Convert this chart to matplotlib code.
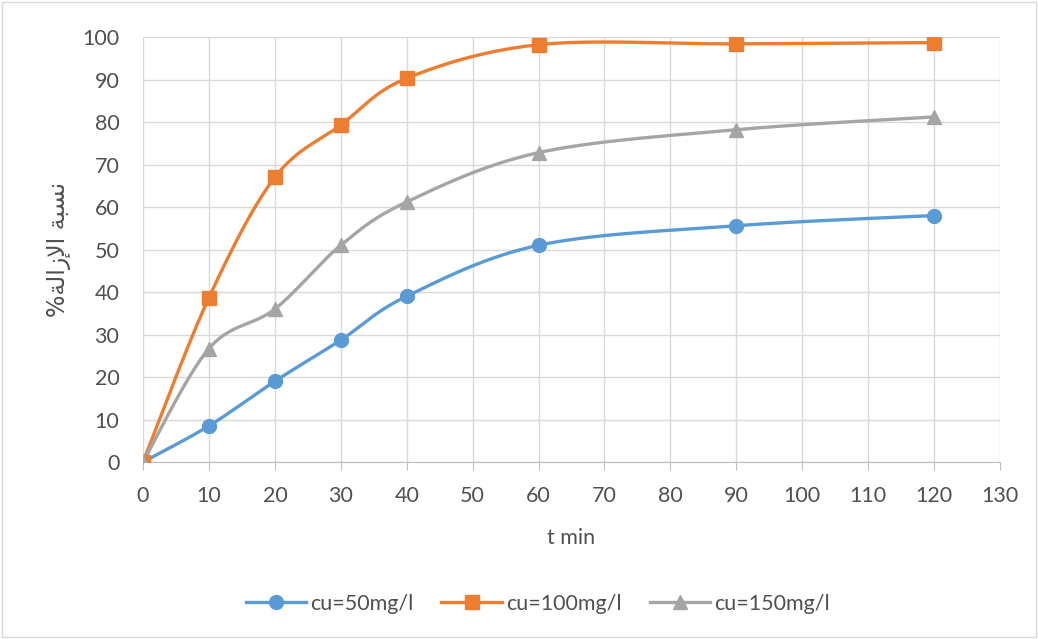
import numpy as np
import matplotlib.pyplot as plt
from matplotlib.patches import Rectangle

plt.rcParams['font.family'] = ['Lato', 'DejaVu Sans']

# data
t = [0, 10, 20, 30, 40, 60, 90, 120]
cu50 = [0, 8.5, 19, 28.7, 39, 51, 55.6, 58]
cu100 = [0, 38.7, 67, 79.3, 90.3, 98.2, 98.4, 98.7]
cu150 = [0, 26.7, 36, 51, 61.2, 72.8, 78.2, 81.2]

# y label in shaped Arabic (presentation forms, visual order)
ylabel = "%\uFE94\uFEDF\uFE8D\uFEAF\uFEF9\uFE8D \uFE94\uFE92\uFEB4\uFEE7"

text_col = '#505050'


def smooth(x, y, n=30):
    # excel-like smoothed line: cubic bezier through the points
    x = np.asarray(x, float)
    y = np.asarray(y, float)
    px = np.concatenate([[x[0]], x, [x[-1]]])
    py = np.concatenate([[y[0]], y, [y[-1]]])
    xs, ys = [], []
    s = np.linspace(0, 1, n)
    for i in range(1, len(px) - 2):
        p0 = np.array([px[i], py[i]])
        p3 = np.array([px[i + 1], py[i + 1]])
        p1 = p0 + (np.array([px[i + 1], py[i + 1]]) - np.array([px[i - 1], py[i - 1]])) / 6
        p2 = p3 - (np.array([px[i + 2], py[i + 2]]) - np.array([px[i], py[i]])) / 6
        b = ((1 - s) ** 3)[:, None] * p0 + (3 * (1 - s) ** 2 * s)[:, None] * p1 \
            + (3 * (1 - s) * s ** 2)[:, None] * p2 + (s ** 3)[:, None] * p3
        xs.extend(b[:, 0])
        ys.extend(b[:, 1])
    return xs, ys


fig = plt.figure(figsize=(10.38, 6.39), dpi=100)
ax = fig.add_axes([0.1378, 0.277, 0.8256, 0.665])

series = [
    (cu50, '#5B9BD5', 'o', 'cu=50mg/l', 10),
    (cu100, '#ED7D31', 's', 'cu=100mg/l', 9.5),
    (cu150, '#A5A5A5', '^', 'cu=150mg/l', 10),
]
handles = []
for vals, col, mk, lab, ms in series:
    sx, sy = smooth(t, vals)
    ax.plot(sx, sy, color=col, lw=2.4, zorder=3)
    ax.plot(t, vals, ls='none', marker=mk, ms=ms, color=col, zorder=4)
    h, = ax.plot([], [], color=col, lw=2.4, marker=mk, ms=ms, label=lab)
    handles.append(h)

ax.set_xlim(0, 130)
ax.set_ylim(0, 100)
ax.set_xticks(range(0, 131, 10))
ax.set_yticks(range(0, 101, 10))
ax.grid(True, color='#d9d9d9', lw=1)
ax.set_axisbelow(True)
for sp in ['top', 'right', 'left']:
    ax.spines[sp].set_visible(False)
ax.spines['bottom'].set_color('#bfbfbf')
ax.tick_params(axis='x', colors='#bfbfbf', length=6, labelcolor=text_col, labelsize=15.5, pad=11)
ax.tick_params(axis='y', length=0, labelcolor=text_col, labelsize=15.5, pad=17)

ax.set_xlabel('t min', fontsize=15.5, color=text_col, labelpad=16)
ax.set_ylabel(ylabel, fontsize=17, color=text_col, labelpad=8, family=['DejaVu Sans'])

fig.legend(handles=handles, loc='center', bbox_to_anchor=(0.518, 0.055), ncol=3,
           frameon=False, fontsize=15.5, handlelength=2.8, columnspacing=1.3,
           labelcolor=text_col, handletextpad=0.2)

fig.patches.append(Rectangle((0.002, 0.003), 0.996, 0.994, transform=fig.transFigure,
                             fill=False, edgecolor='#d9d9d9', lw=1))

fig.savefig('out.png', dpi=100)
